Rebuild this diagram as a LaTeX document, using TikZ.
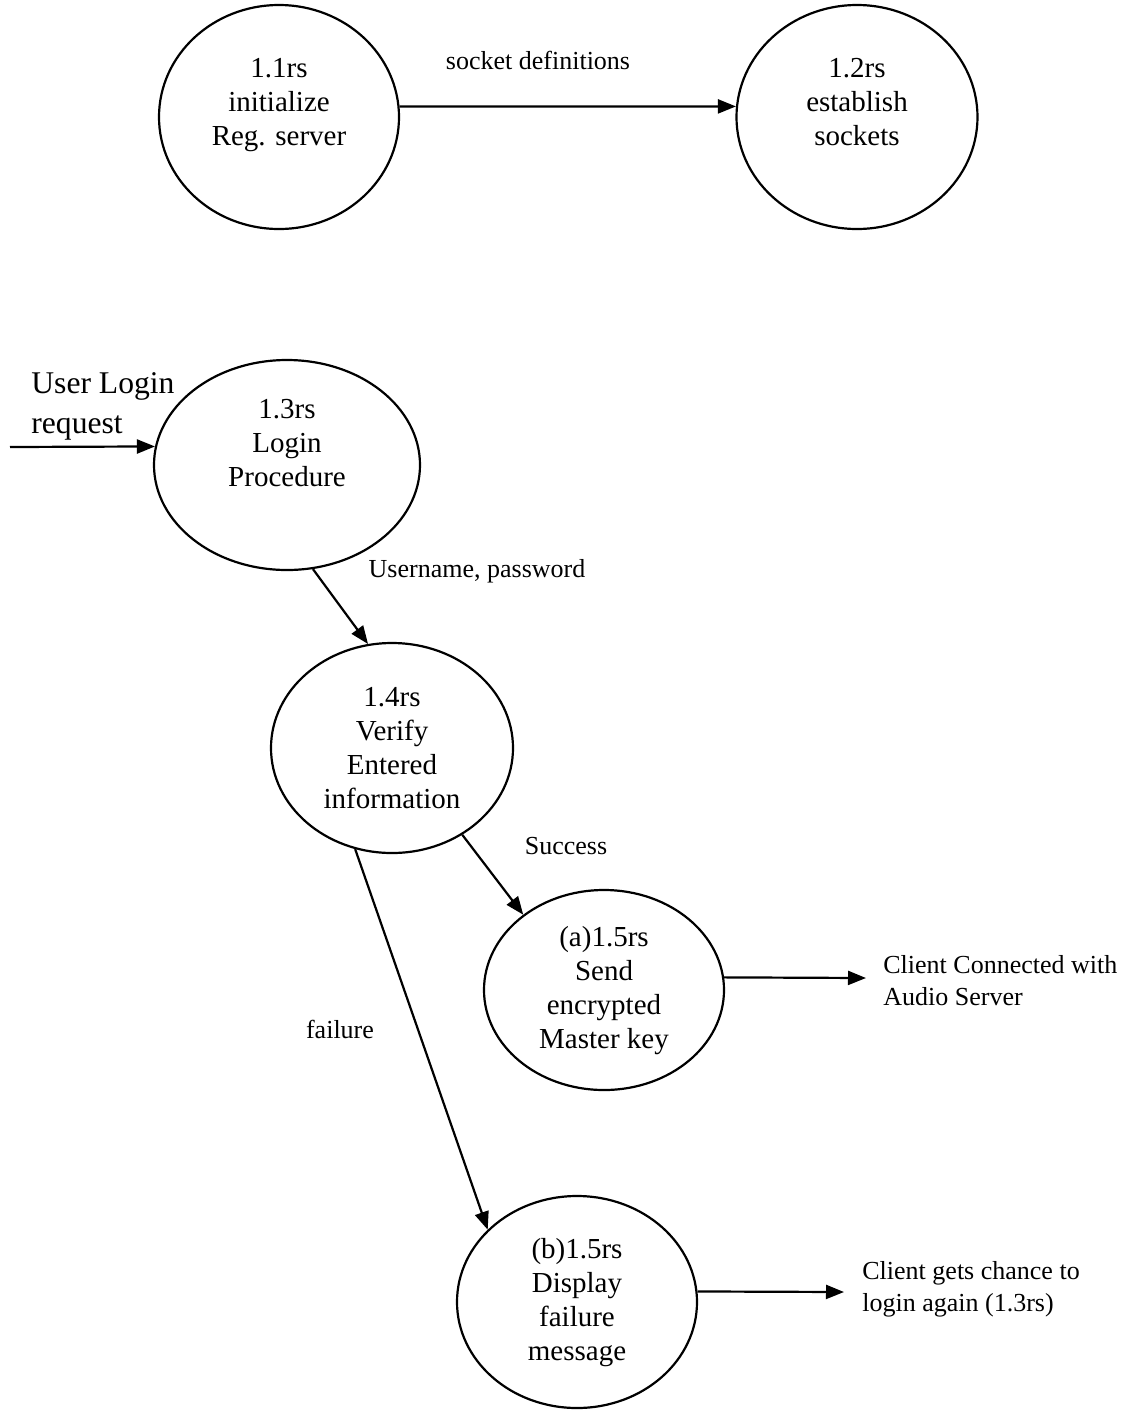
\documentclass[tikz,border=0pt]{standalone}
\usepackage{fontspec}
\setmainfont{Liberation Serif}
\usetikzlibrary{shapes.geometric,arrows.meta}
\begin{document}
\begin{tikzpicture}[x=0.5pt,y=-0.5pt,
  proc/.style={draw,line width=1.1pt,ellipse,inner sep=0pt},
  ptext/.style={align=center,font=\fontsize{14.5pt}{17pt}\selectfont,inner sep=0pt},
  lbl/.style={font=\fontsize{13pt}{16pt}\selectfont,inner sep=0pt},
  flow/.style={line width=1.1pt,-{Triangle[length=9pt,width=7pt]}}]
\useasboundingbox (0,0) rectangle (1133,1410);

% processes
\node[proc,minimum width=120pt,minimum height=112pt] (n11) at (279,117) {};
\node[ptext] (t11) at (279,105) {1.1rs\\initialize\\Reg. server};
\node[proc,minimum width=120.5pt,minimum height=112pt] (n12) at (857,117) {};
\node[ptext] (t12) at (857,102) {1.2rs\\establish\\sockets};
\node[proc,minimum width=133pt,minimum height=105pt] (n13) at (287,465) {};
\node[ptext] (t13) at (287,443) {1.3rs\\Login\\Procedure};
\node[proc,minimum width=121pt,minimum height=105pt] (n14) at (392,748) {};
\node[ptext] (t14) at (392,748) {1.4rs\\Verify\\Entered\\information};
\node[proc,minimum width=120pt,minimum height=100pt] (n15a) at (604,990) {};
\node[ptext] (t15a) at (604,991) {(a)1.5rs\\Send\\encrypted\\Master key};
\node[proc,minimum width=120pt,minimum height=106pt] (n15b) at (577,1302) {};
\node[ptext] (t15b) at (577,1303) {(b)1.5rs\\Display\\failure\\message};

% free ends
\coordinate (src) at (10,447);
\coordinate (outa) at (866,978);
\coordinate (outb) at (844,1292);

% flows
\draw[flow] (n11.5) -- (n12.175);
\draw[flow] (src) -- (n13.172);
\draw[flow] (n13.-76) -- (n14.103);
\draw[flow] (n14.-51) -- (n15a.137);
\draw[flow] (n14.-110) -- (n15b.141);
\draw[flow] (n15a.6) -- (outa);
\draw[flow] (n15b.5) -- (outb);

% flow labels
\node[lbl] (l1) at (538,60) {socket definitions};
\node[align=left,anchor=west,inner sep=0pt,font=\fontsize{15.8pt}{20pt}\selectfont] (l2) at (31,406) {User Login\\request};
\node[lbl] (l3) at (477,571) {Username, password};
\node[lbl] (l4) at (566,846) {Success};
\node[lbl] (l5) at (340,1029) {failure};
\node[lbl,align=left,anchor=west] (l6) at (883,981) {Client Connected with\\Audio Server};
\node[lbl,align=left,anchor=west] (l7) at (862,1289) {Client gets chance to\\login again (1.3rs)};
\end{tikzpicture}
\end{document}
